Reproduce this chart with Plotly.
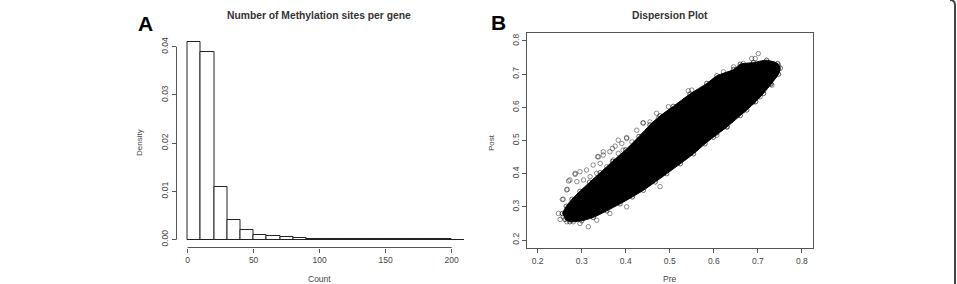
import plotly.graph_objects as go

# ---------------- Panel A: histogram data ----------------
bin_left = [0, 10, 20, 30, 40, 50, 60, 70, 80, 90, 100, 110, 120, 130, 140, 150, 160, 170, 180, 190, 200]
density = [0.0410, 0.0390, 0.0110, 0.0040, 0.0019, 0.0010, 0.0007, 0.00045, 0.0003, 0.0002,
           0.00015, 0.00012, 0.0001, 0.00008, 0.00006, 0.00005, 0.00005, 0.00004, 0.00003, 0.00003, 0.00002]
bin_width = 10
hist_xticks = [0, 50, 100, 150, 200]
hist_yticks = [0.00, 0.01, 0.02, 0.03, 0.04]

# ---------------- Panel B: dispersion data ----------------
# envelope of the solid (overplotted) part of the cloud
core_pre = [0.262, 0.273, 0.300, 0.326, 0.357, 0.387, 0.415, 0.440, 0.467, 0.493, 0.524, 0.554, 0.580,
            0.599, 0.630, 0.660, 0.675, 0.695, 0.713, 0.730, 0.747, 0.751,
            0.745, 0.720, 0.690, 0.660, 0.645, 0.607, 0.584, 0.546, 0.508, 0.478, 0.455, 0.430,
            0.400, 0.370, 0.342, 0.318, 0.296, 0.278, 0.265, 0.256]
core_post = [0.262, 0.255, 0.258, 0.268, 0.288, 0.309, 0.330, 0.350, 0.375, 0.400, 0.430, 0.460, 0.490,
             0.510, 0.541, 0.575, 0.592, 0.617, 0.642, 0.670, 0.700, 0.718,
             0.732, 0.742, 0.735, 0.730, 0.714, 0.695, 0.672, 0.640, 0.603, 0.574, 0.547, 0.512,
             0.472, 0.437, 0.403, 0.374, 0.347, 0.323, 0.302, 0.280]
# individually visible circles around the cloud
out_pre = [0.440, 0.455, 0.402, 0.391, 0.376, 0.364, 0.349, 0.338, 0.342, 0.326, 0.311, 0.296, 0.285,
           0.273, 0.266, 0.258, 0.289, 0.304, 0.319, 0.334, 0.357, 0.372, 0.383, 0.394, 0.414, 0.425,
           0.474, 0.315, 0.258, 0.281, 0.296, 0.334, 0.364, 0.402, 0.478, 0.501, 0.561, 0.607, 0.630,
           0.701, 0.694, 0.686, 0.667, 0.735, 0.747, 0.728, 0.705, 0.690, 0.667, 0.630, 0.550, 0.622,
           0.645, 0.285, 0.270, 0.267, 0.256, 0.247, 0.251, 0.266, 0.336, 0.349, 0.370, 0.383, 0.402,
           0.439, 0.470, 0.497, 0.542, 0.732, 0.732, 0.675, 0.607]
out_post = [0.553, 0.556, 0.506, 0.491, 0.483, 0.466, 0.456, 0.451, 0.431, 0.426, 0.411, 0.406, 0.401,
            0.381, 0.351, 0.323, 0.376, 0.381, 0.391, 0.401, 0.421, 0.441, 0.461, 0.471, 0.496, 0.531,
            0.567, 0.240, 0.270, 0.255, 0.250, 0.260, 0.280, 0.300, 0.361, 0.421, 0.476, 0.516, 0.541,
            0.762, 0.747, 0.747, 0.732, 0.732, 0.727, 0.672, 0.632, 0.616, 0.591, 0.556, 0.652, 0.707,
            0.722, 0.398, 0.378, 0.353, 0.322, 0.280, 0.262, 0.255, 0.451, 0.466, 0.476, 0.501, 0.509,
            0.553, 0.582, 0.602, 0.650, 0.667, 0.694, 0.602, 0.523]
scatter_ticks = [0.2, 0.3, 0.4, 0.5, 0.6, 0.7, 0.8]

W, H = 957, 284
FONT = "Liberation Sans, Arial, sans-serif"
TICKC = "#555555"
TXT = "#444444"

def px(x):
    return x / W

def py(y):
    return 1 - y / H

fig = go.Figure()

fig.add_trace(go.Bar(
    x=[b + bin_width / 2 for b in bin_left], y=density, width=bin_width,
    marker=dict(color="white", line=dict(color="#222222", width=1)),
    xaxis="x", yaxis="y", showlegend=False, hoverinfo="skip"))

fig.add_trace(go.Scatter(
    x=core_pre, y=core_post, mode="lines+markers", fill="toself", fillcolor="black",
    line=dict(color="black", width=1, shape="spline", smoothing=0.6),
    marker=dict(symbol="circle-open", size=4.5, color="rgba(0,0,0,0.75)", line=dict(width=0.8)),
    xaxis="x2", yaxis="y2", showlegend=False, hoverinfo="skip"))

fig.add_trace(go.Scatter(
    x=out_pre, y=out_post, mode="markers",
    marker=dict(symbol="circle-open", size=4.5, color="rgba(0,0,0,0.55)", line=dict(width=0.8)),
    xaxis="x2", yaxis="y2", showlegend=False, hoverinfo="skip"))

tickfont = dict(family=FONT, size=8.5, color=TXT)
common = dict(showgrid=False, zeroline=False, ticks="outside", ticklen=4, tickwidth=1,
              tickcolor=TICKC, tickfont=tickfont)

fig.update_layout(
    width=W, height=H, margin=dict(l=0, r=0, t=0, b=0),
    paper_bgcolor="white", plot_bgcolor="white", bargap=0,
    xaxis=dict(domain=[px(176.5), px(476)], range=[-8.4, 218.4], tickvals=hist_xticks,
               showline=False, anchor="y", **common),
    yaxis=dict(domain=[py(247.5), py(34)], range=[-0.00164, 0.04264], tickvals=hist_yticks,
               tickformat=".2f", tickangle=-90, showline=False, anchor="x", **common),
    xaxis2=dict(domain=[px(527.3), px(813.3)], range=[0.1764, 0.826], tickvals=scatter_ticks,
                tickformat=".1f", showline=True, mirror=True, linecolor=TICKC, linewidth=1,
                anchor="y2", **common),
    yaxis2=dict(domain=[py(248.3), py(32.7)], range=[0.175, 0.825], tickvals=scatter_ticks,
                tickformat=".1f", tickangle=-90, showline=True, mirror=True, linecolor=TICKC,
                linewidth=1, anchor="x2", **common),
)

# R-style axis lines spanning only the tick range (panel A)
fig.add_shape(type="line", xref="x", yref="y domain", x0=hist_xticks[0], x1=hist_xticks[-1],
              y0=0, y1=0, line=dict(color=TICKC, width=1))
fig.add_shape(type="line", xref="x domain", yref="y", x0=0, x1=0,
              y0=hist_yticks[0], y1=hist_yticks[-1], line=dict(color=TICKC, width=1))

# outer frame (right edge with rounded corner)
fig.add_shape(type="path", xref="paper", yref="paper",
              path=f"M {px(955)},{py(285)} L {px(955)},{py(5)} Q {px(955)},{py(0)} {px(950)},{py(0)}",
              line=dict(color="#444444", width=2))

ann = [
    dict(text="<b>Number of Methylation sites per gene</b>", x=px(319), y=py(15.7), size=10.3, angle=0, color="#333333"),
    dict(text="<b>Dispersion Plot</b>", x=px(670), y=py(15.3), size=10.3, angle=0, color="#333333"),
    dict(text="<b>A</b>", x=px(145.7), y=py(23.5), size=21, angle=0, color="black"),
    dict(text="<b>B</b>", x=px(498), y=py(22), size=21, angle=0, color="black"),
    dict(text="Count", x=px(319), y=py(279), size=8.5, angle=0, color=TXT),
    dict(text="Pre", x=px(670), y=py(278.5), size=8.5, angle=0, color=TXT),
    dict(text="Density", x=px(139), y=py(143), size=8, angle=-90, color=TXT),
    dict(text="Post", x=px(491), y=py(143), size=8, angle=-90, color=TXT),
]
for a in ann:
    fig.add_annotation(text=a["text"], x=a["x"], y=a["y"], xref="paper", yref="paper",
                       xanchor="center", yanchor="middle", showarrow=False, textangle=a["angle"],
                       font=dict(family=FONT, size=a["size"], color=a["color"]))

fig.write_html("out.html")
